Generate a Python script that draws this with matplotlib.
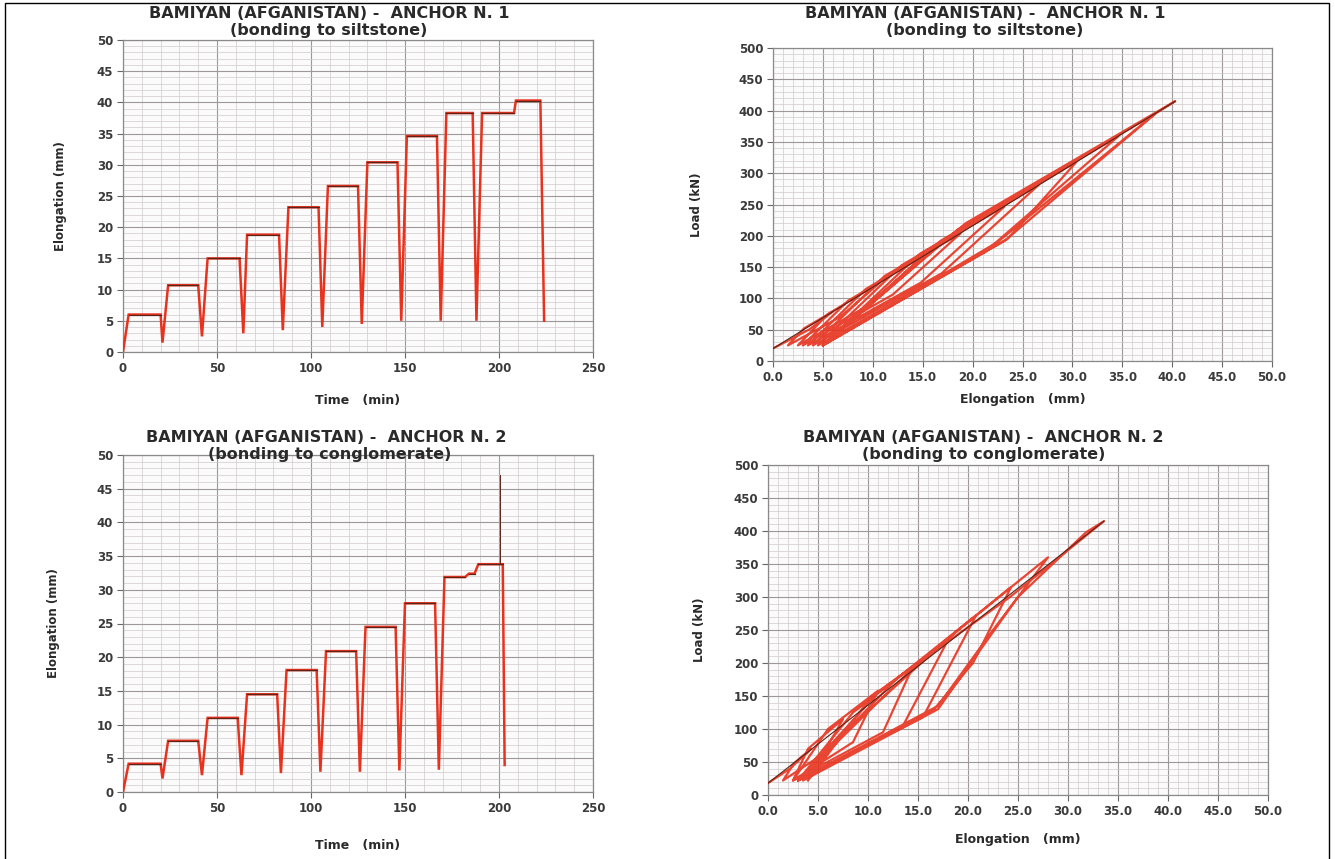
import numpy as np
import matplotlib
matplotlib.use('Agg')
import matplotlib.pyplot as plt
from matplotlib.ticker import MultipleLocator, FormatStrFormatter
from matplotlib.patches import Rectangle

plt.rcParams['font.family'] = ['DejaVu Sans']

W, H = 1335, 859

# ---------------- data ----------------
title_1 = "BAMIYAN (AFGANISTAN) -  ANCHOR N. 1"
subtitle_1 = "(bonding to siltstone)"
title_2 = "BAMIYAN (AFGANISTAN) -  ANCHOR N. 2"
subtitle_2 = "(bonding to conglomerate)"

# Anchor 1 : elongation vs time
time_1 = [0, 3, 20, 21, 24, 40, 42, 45, 62, 64, 66, 83, 85, 88, 104, 106, 109, 125,
          127, 130, 146, 148, 151, 167, 169, 172, 186, 188, 191, 208, 209, 222, 224]
elong_t1 = [0, 6.0, 6.0, 1.5, 10.7, 10.7, 2.5, 15.0, 15.0, 3.0, 18.8, 18.8, 3.5, 23.2, 23.2,
            4.0, 26.6, 26.6, 4.5, 30.4, 30.4, 5.0, 34.6, 34.6, 5.0, 38.3, 38.3, 5.0, 38.3,
            38.3, 40.3, 40.3, 5.0]

# Anchor 2 : elongation vs time
time_2 = [0, 3, 20, 21, 24, 40, 42, 45, 61, 63, 66, 82, 84, 87, 103, 105, 108, 124, 126,
          129, 145, 147, 150, 166, 168, 171, 182, 184, 187, 189, 202, 203]
elong_t2 = [0, 4.2, 4.2, 2.0, 7.6, 7.6, 2.5, 11.0, 11.0, 2.5, 14.5, 14.5, 2.8, 18.1, 18.1,
            3.0, 20.9, 20.9, 3.0, 24.5, 24.5, 3.2, 28.0, 28.0, 3.3, 31.9, 31.9, 32.4, 32.4,
            33.8, 33.8, 4.0]
spike_t2 = [200.5, 200.5]
spike_e2 = [33.8, 47.0]

# Anchor 1 : load vs elongation (loading / unloading cycles)
elong_l1 = [0, 3.6, 6.0, 3.1, 1.5, 6.7, 10.7, 5.5, 2.5, 9.6, 15.0, 7.5, 3.0, 12.0, 18.8, 9.3,
            3.5, 14.8, 23.2, 11.2, 4.0, 16.9, 26.6, 12.9, 4.5, 23.5, 30.4, 14.7, 5.0, 21.3,
            34.6, 16.8, 5.0, 23.2, 38.3, 18.5, 5.0, 22.5, 38.3, 40.3, 19.3, 5.0]
load_1 = [20, 50, 79, 52, 25, 70, 125, 75, 25, 89, 167, 96, 25, 106, 204, 115, 25, 125, 247,
          136, 25, 140, 281, 153, 25, 195, 318, 171, 25, 175, 359, 192, 25, 192, 395, 210, 25,
          190, 395, 415, 220, 25]
ref_e1 = [0, 40.3]
ref_l1 = [20, 415]

# Anchor 2 : load vs elongation
elong_l2 = [0, 2.2, 4.3, 2.6, 1.5, 5.5, 7.5, 4.0, 2.5, 8.5, 11.0, 6.0, 2.5, 11.5, 14.5, 8.5,
            3.0, 13.5, 18.0, 11.0, 3.0, 15.5, 20.8, 13.0, 3.0, 16.5, 20.5, 24.3, 15.0, 3.0,
            17.0, 22.5, 28.0, 19.0, 8.0, 3.5, 17.0, 25.0, 31.8, 33.6, 24.2, 10.4, 4.0]
load_2 = [18, 40, 70, 48, 22, 62, 115, 70, 22, 80, 158, 100, 22, 95, 195, 125, 22, 105, 235,
          155, 22, 118, 272, 178, 22, 128, 200, 315, 200, 22, 135, 250, 360, 250, 100, 22, 130,
          300, 398, 415, 300, 150, 22]
ref_e2 = [0, 33.6]
ref_l2 = [18, 415]

# ---------------- style ----------------
RED = '#e8321e'
DARK = '#5a2418'
MAJ = '#9e9898'
MIN = '#d0cacc'
TXT = '#2a2a2a'

fig = plt.figure(figsize=(W / 100, H / 100), dpi=100)
fig.patch.set_facecolor('white')


def px_axes(l, r, t, b):
    return fig.add_axes([l / W, 1 - b / H, (r - l) / W, (b - t) / H])


def style(ax, xmaj, xmin, ymaj, ymin, xfmt):
    ax.set_facecolor('#fbfbfc')
    ax.xaxis.set_major_locator(MultipleLocator(xmaj))
    ax.xaxis.set_minor_locator(MultipleLocator(xmin))
    ax.yaxis.set_major_locator(MultipleLocator(ymaj))
    ax.yaxis.set_minor_locator(MultipleLocator(ymin))
    ax.xaxis.set_major_formatter(FormatStrFormatter(xfmt))
    ax.yaxis.set_major_formatter(FormatStrFormatter('%d'))
    ax.grid(True, which='major', color=MAJ, lw=0.8)
    ax.grid(True, which='minor', color=MIN, lw=0.5)
    ax.set_axisbelow(True)
    for s in ax.spines.values():
        s.set_color('#8a8a8a')
        s.set_linewidth(0.9)
    ax.tick_params(which='major', direction='out', length=4, width=0.8, color='#666',
                   labelsize=8.5, labelcolor='#3a3a3a', pad=3)
    ax.tick_params(which='minor', length=0)
    for lab in ax.get_xticklabels() + ax.get_yticklabels():
        lab.set_fontweight('bold')


def time_plot(ax, t, e):
    ax.plot(t, e, color=RED, lw=1.8, solid_joinstyle='miter', zorder=3)
    for i in range(len(e) - 1):
        if e[i] == e[i + 1]:
            ax.plot(t[i:i + 2], e[i:i + 2], color=DARK, lw=0.9, zorder=4)


# Top-left
ax1 = px_axes(123, 593, 40, 352)
time_plot(ax1, time_1, elong_t1)
ax1.set_xlim(0, 250)
ax1.set_ylim(0, 50)
style(ax1, 50, 10, 5, 1, '%d')
ax1.set_xlabel('Time   (min)', fontsize=9, fontweight='bold', color=TXT)
ax1.set_ylabel('Elongation (mm)', fontsize=8.5, fontweight='bold', color=TXT)
ax1.xaxis.set_label_coords(0.5, -0.135)
ax1.yaxis.set_label_coords(-0.12, 0.5)

# Bottom-left
ax3 = px_axes(123, 593, 455, 792)
time_plot(ax3, time_2, elong_t2)
ax3.plot(spike_t2, spike_e2, color=DARK, lw=0.7, zorder=4)
ax3.set_xlim(0, 250)
ax3.set_ylim(0, 50)
style(ax3, 50, 10, 5, 1, '%d')
ax3.set_xlabel('Time   (min)', fontsize=9, fontweight='bold', color=TXT)
ax3.set_ylabel('Elongation (mm)', fontsize=8.5, fontweight='bold', color=TXT)
ax3.xaxis.set_label_coords(0.5, -0.14)
ax3.yaxis.set_label_coords(-0.135, 0.5)

# Top-right
ax2 = px_axes(773, 1272, 48, 361)
ax2.plot(elong_l1, load_1, color=RED, lw=1.6, alpha=0.9, zorder=3)
ax2.plot(ref_e1, ref_l1, color=DARK, lw=0.8, zorder=4)
ax2.set_xlim(0, 50)
ax2.set_ylim(0, 500)
style(ax2, 5, 1, 50, 10, '%.1f')
ax2.set_xlabel('Elongation   (mm)', fontsize=9, fontweight='bold', color=TXT)
ax2.set_ylabel('Load (kN)', fontsize=8.5, fontweight='bold', color=TXT)
ax2.xaxis.set_label_coords(0.5, -0.102)
ax2.yaxis.set_label_coords(-0.14, 0.5)

# Bottom-right
ax4 = px_axes(768, 1268, 465, 795)
ax4.plot(elong_l2, load_2, color=RED, lw=1.6, alpha=0.9, zorder=3)
ax4.plot(ref_e2, ref_l2, color=DARK, lw=0.8, zorder=4)
ax4.set_xlim(0, 50)
ax4.set_ylim(0, 500)
style(ax4, 5, 1, 50, 10, '%.1f')
ax4.set_xlabel('Elongation   (mm)', fontsize=9, fontweight='bold', color=TXT)
ax4.set_ylabel('Load (kN)', fontsize=8.5, fontweight='bold', color=TXT)
ax4.xaxis.set_label_coords(0.5, -0.115)
ax4.yaxis.set_label_coords(-0.125, 0.5)

# Titles


def ftext(x, y, s):
    fig.text(x / W, 1 - y / H, s, ha='center', va='center', fontsize=11.5,
             fontweight='bold', color=TXT)


ftext(329, 14, title_1)
ftext(329, 30, subtitle_1)
ftext(985, 14, title_1)
ftext(985, 30, subtitle_1)
ftext(326, 437, title_2)
ftext(330, 454, subtitle_2)
ftext(983, 438, title_2)
ftext(984, 455, subtitle_2)

# Frame around the figure
fig.add_artist(Rectangle((5 / W, -0.02), (1329 - 5) / W, 1.02 - 3 / H,
                         transform=fig.transFigure, fill=False, ec='black', lw=1.0,
                         clip_on=False))

fig.savefig('out.png', dpi=100)
